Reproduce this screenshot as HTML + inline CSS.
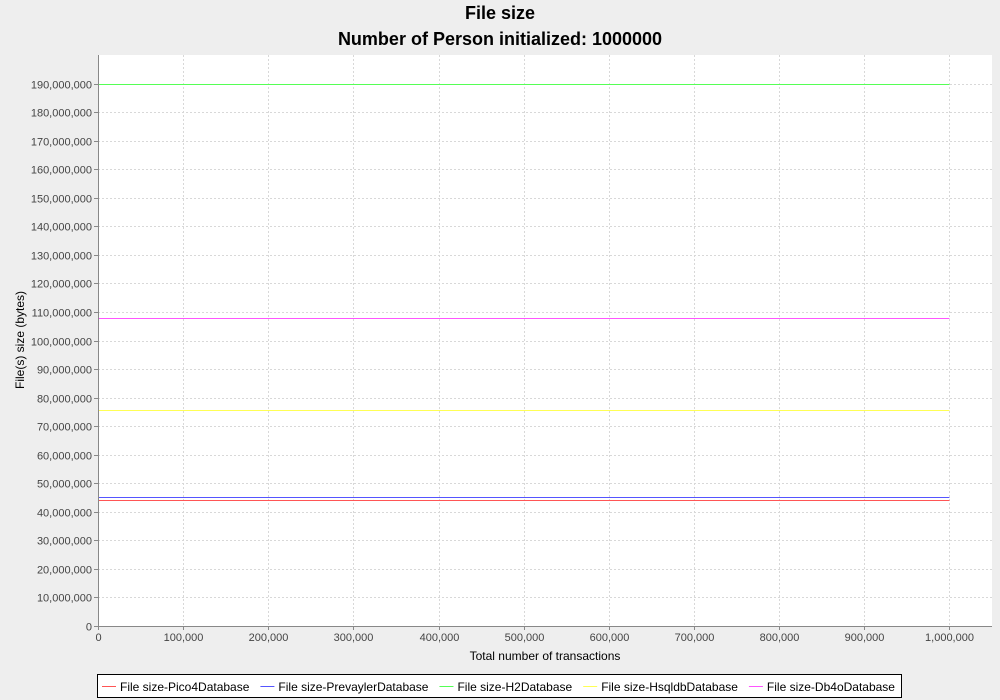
<!DOCTYPE html>
<html><head><meta charset="utf-8"><style>
body{margin:0;background:#eeeeee;font-family:"Liberation Sans",sans-serif;}
svg{display:block}
</style></head><body>
<svg id="chart" width="1000" height="700" xmlns="http://www.w3.org/2000/svg">
<rect x="0" y="0" width="1000" height="700" fill="#eeeeee"/>
<text x="500" y="19" text-anchor="middle" font-size="18" font-weight="bold" fill="#000">File size</text>
<text x="500" y="45" text-anchor="middle" font-size="18" font-weight="bold" fill="#000">Number of Person initialized: 1000000</text>
<rect x="98" y="55" width="894" height="571" fill="#ffffff"/>
<g id="grid"></g>
<g id="series"></g>
<g id="axes"></g>
<text x="545" y="660" text-anchor="middle" font-size="12" fill="#000">Total number of transactions</text>
<text transform="translate(24,340) rotate(-90)" text-anchor="middle" font-size="12" fill="#000">File(s) size (bytes)</text>
<g id="legend">
<rect x="97.5" y="674.5" width="804" height="23" fill="#fff" stroke="#000"/>
</g>
</svg>
<script>
const seriesNames=["File size-Pico4Database","File size-PrevaylerDatabase","File size-H2Database","File size-HsqldbDatabase","File size-Db4oDatabase"];
const seriesColors=["#ff5555","#5555ff","#55ff55","#ffff55","#ff55ff"];
const xValues=[0,1000000];
const pico=[44200000,44200000];
const prevayler=[45200000,45200000];
const h2=[189800000,189800000];
const hsqldb=[75700000,75700000];
const db4o=[107900000,107900000];
const xTicks=[0,100000,200000,300000,400000,500000,600000,700000,800000,900000,1000000];
const yTicks=[0,10000000,20000000,30000000,40000000,50000000,60000000,70000000,80000000,90000000,100000000,110000000,120000000,130000000,140000000,150000000,160000000,170000000,180000000,190000000];
const NS="http://www.w3.org/2000/svg";
const X0=98,X1=992,Y0=626,Y1=55,XMAX=1050000,YMAX=200000000;
const xs=v=>X0+v/XMAX*(X1-X0);
const ys=v=>Y0-v/YMAX*(Y0-Y1);
const fmt=v=>v.toLocaleString("en-US");
function mk(tag,attrs,parent){const e=document.createElementNS(NS,tag);for(const k in attrs)e.setAttribute(k,attrs[k]);parent.appendChild(e);return e;}
const grid=document.getElementById("grid"),axes=document.getElementById("axes"),ser=document.getElementById("series"),leg=document.getElementById("legend");
xTicks.forEach(t=>{const x=Math.round(xs(t))+0.5;
 if(t>0){const g=mk("line",{x1:x,x2:x,y1:Y1,y2:Y0,stroke:"#d8d8d8","stroke-dasharray":"2,2"},grid);}
 const tk=mk("line",{x1:x,x2:x,y1:Y0,y2:Y0+4,stroke:"#888"},axes);
 const tx=mk("text",{x:x,y:Y0+15,"text-anchor":"middle","font-size":"11",fill:"#444"},axes);tx.textContent=fmt(t);
 });
yTicks.forEach(t=>{const y=Math.round(ys(t))+0.5;
 if(t>0){const g=mk("line",{x1:X0,x2:X1,y1:y,y2:y,stroke:"#d8d8d8","stroke-dasharray":"2,2"},grid);}
 const tk=mk("line",{x1:X0-4,x2:X0,y1:y,y2:y,stroke:"#888"},axes);
 const tx=mk("text",{x:X0-6,y:y+4,"text-anchor":"end","font-size":"11",fill:"#444"},axes);tx.textContent=fmt(t);
 });
const ax=mk("line",{x1:X0,x2:X1,y1:Y0+0.5,y2:Y0+0.5,stroke:"#888"},axes);
const ay=mk("line",{x1:X0+0.5,x2:X0+0.5,y1:Y1,y2:Y0,stroke:"#888"},axes);
const data=[pico,prevayler,h2,hsqldb,db4o];
data.forEach((vals,i)=>{const pts=vals.map((v,j)=>xs(xValues[j])+","+(Math.round(ys(v))+0.5)).join(" ");
 const p=mk("polyline",{points:pts,fill:"none",stroke:seriesColors[i],"stroke-width":"1"},ser);
 });
let lx=102;
seriesNames.forEach((n,i)=>{const l=mk("line",{x1:lx,x2:lx+14,y1:686.5,y2:686.5,stroke:seriesColors[i]},leg);
 
 const t=mk("text",{x:lx+18,y:691,"font-size":"12",fill:"#000"},leg);t.textContent=n;
 
 lx+=18+t.getComputedTextLength()+11;});
</script>
</body></html>
